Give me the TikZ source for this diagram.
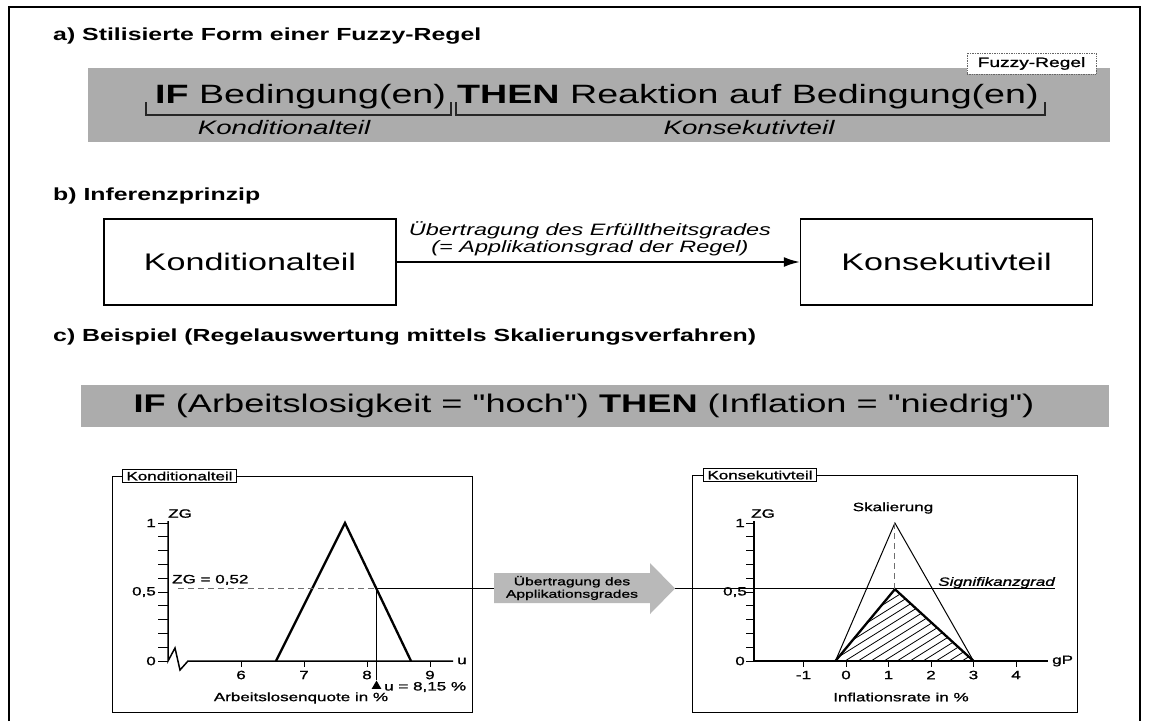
\documentclass[tikz,border=0pt]{standalone}
\usepackage{fontspec}
\setmainfont{Liberation Sans}[FakeStretch=1.42,Ligatures=TeXOff]
\newfontfamily\plotfont{Liberation Sans}[FakeStretch=1.42,FakeBold=1.2,Ligatures=TeXOff]
\usetikzlibrary{arrows.meta,shapes.geometric}
\newcommand{\fsz}[1]{\fontsize{#1}{#1}\selectfont}
\definecolor{bandgray}{RGB}{172,172,172}
\definecolor{arrowgray}{RGB}{185,185,185}
\definecolor{dashgray}{RGB}{110,110,110}

\begin{document}
\begin{tikzpicture}[x=1pt,y=-1pt,
  title/.style={anchor=west,inner sep=0pt,font=\fsz{17.5}\bfseries},
  bigtext/.style={anchor=base west,inner sep=0pt,font=\fsz{26.5}},
  parttext/.style={inner sep=0pt,font=\fsz{19.5}\itshape},
  bracket/.style={line width=1.1pt,draw=black!85},
  bigbox/.style={draw,line width=1.5pt,minimum width=292pt,minimum height=86pt,font=\fsz{24},inner sep=0pt},
  tag/.style={draw,line width=0.9pt,fill=white,inner xsep=4pt,inner ysep=0pt,minimum height=13pt,font=\plotfont\fsz{12}},
  plotframe/.style={draw,line width=1.4pt,inner sep=0pt},
  axisline/.style={line width=1.5pt},
  tickmark/.style={line width=1pt},
  lbl/.style={inner sep=0pt,font=\plotfont\fsz{12}},
  memb/.style={line width=2.3pt,line join=miter},
  thinmemb/.style={line width=1pt},
  guide/.style={dash pattern=on 6pt off 4pt,draw=dashgray,line width=0.9pt},
  marker/.style={regular polygon,regular polygon sides=3,fill,inner sep=0pt,minimum size=11pt}
]
\useasboundingbox (0,0) rectangle (1149,721);
\fill[white] (0,0) rectangle (1149,721);

% outer frame, open at the bottom
\draw[line width=2.6pt] (9,721) -- (9,7) -- (1140,7) -- (1140,721);

% ---------- a) ----------
\node[title] (ta) at (53,36) {a) Stilisierte Form einer Fuzzy-Regel};
\node[fill=bandgray,anchor=north west,minimum width=1022pt,minimum height=74pt,inner sep=0pt] (banda) at (88,68) {};
\node[draw=black!60,densely dotted,line width=0.7pt,fill=white,minimum width=129pt,minimum height=21pt,inner sep=0pt,font=\plotfont\fsz{13.5}] (fuzzy) at (1031.5,63.5) {Fuzzy-Regel};
\node[bigtext] (ifa) at (155,103) {\textbf{IF} Bedingung(en)};
\node[bigtext] (thena) at (457,103) {\textbf{THEN} Reaktion auf Bedingung(en)};
\draw[bracket] (146,102) |- (451,115) -- (451,102);
\draw[bracket] (456,102) |- (1045,115) -- (1045,102);
\node[parttext] (konda) at (284,128) {Konditionalteil};
\node[parttext] (konsa) at (749,128) {Konsekutivteil};

% ---------- b) ----------
\node[title] (tb) at (53,196) {b) Inferenzprinzip};
\node[bigbox] (bk) at (250,262) {Konditionalteil};
\node[bigbox] (bs) at (946.5,262) {Konsekutivteil};
\draw[line width=1.8pt,-{Latex[length=16pt,width=10pt]}] (bk.east) -- (bs.west);
\node[inner sep=0pt,font=\fontsize{16.5}{17.5}\selectfont\itshape,align=center] (inf) at (590,239) {Übertragung des Erfülltheitsgrades\\(= Applikationsgrad der Regel)};

% ---------- c) ----------
\node[title] (tc) at (53,337) {c) Beispiel (Regelauswertung mittels Skalierungsverfahren)};
\node[fill=bandgray,anchor=north west,minimum width=1028pt,minimum height=42pt,inner sep=0pt] (barc) at (81,385) {};
\node[inner sep=0pt,font=\fsz{25.5}] (rulec) at (584,406) {\textbf{IF} (Arbeitslosigkeit = "hoch") \textbf{THEN} (Inflation = "niedrig")};

% left diagram: condition part
\node[plotframe,anchor=north west,minimum width=360pt,minimum height=236pt] (fl) at (112,476) {};
\node[tag,anchor=west] (tagl) at (122,476) {Konditionalteil};
\draw[axisline] (168,521) -- (168,661) -- (175,648) -- (180,670) -- (188,661) -- (453,661);
\foreach \i in {0,...,10} \draw[tickmark] (158,{661-13.8*\i}) -- (168,{661-13.8*\i});
\node[lbl,anchor=east] (l1) at (156,523) {1};
\node[lbl,anchor=east] (l05) at (156,592) {0,5};
\node[lbl,anchor=east] (l0) at (156,661) {0};
\node[lbl,anchor=south west] (lzg) at (168,518) {ZG};
\foreach \u in {6,7,8,9} {
  \draw[tickmark] ({241+63*(\u-6)},661) -- ({241+63*(\u-6)},667);
  \node[lbl] (lx\u) at ({241+63*(\u-6)},675) {\u};
}
\node[lbl,anchor=west] (lu) at (457,661) {u};
\draw[memb] (276,661) -- (345,523) -- (411,661);
\coordinate (cut) at (376.5,588.5);
\coordinate (sigend) at (1055,588.5);
\draw[guide] (178,588.5) -- (cut);
\node[lbl,anchor=south west] (zg52) at (172,585) {ZG = 0,52};
\node[marker] (mk) at (376.5,686) {};
\draw[line width=1.3pt] (cut) -- (mk.north);
\node[lbl,anchor=west] (uval) at (384,687) {u = 8,15 \%};
\node[lbl] (lxlab) at (301,698) {Arbeitslosenquote in \%};

% transfer of the degree of application
\draw[line width=1.3pt] (cut) -- (sigend);
\fill[arrowgray] (494,573) -- (650,573) -- (650,563) -- (675,588.5) -- (650,614) -- (650,603) -- (494,603) -- cycle;
\node[inner sep=0pt,font=\plotfont\fontsize{11}{12.5}\selectfont,align=center] (arrtxt) at (572,588) {Übertragung des\\Applikationsgrades};

% right diagram: consequence part
\node[plotframe,anchor=north west,minimum width=385pt,minimum height=237pt] (fr) at (692,475) {};
\node[tag,anchor=west] (tagr) at (703,475) {Konsekutivteil};
\draw[axisline] (754,521) -- (754,661) -- (1048,661);
\foreach \i in {0,...,10} \draw[tickmark] (746,{661-13.8*\i}) -- (754,{661-13.8*\i});
\node[lbl,anchor=east] (r1) at (745,523) {1};
\node[lbl,anchor=east] (r05) at (747,592) {0,5};
\node[lbl,anchor=east] (r0) at (745,661) {0};
\node[lbl,anchor=south west] (rzg) at (751,518) {ZG};
\foreach \v in {-1,0,1,2,3,4} {
  \draw[tickmark] ({846+42.5*\v},661) -- ({846+42.5*\v},667);
  \node[lbl] (rx\v) at ({846+42.5*\v},675) {\v};
}
\node[lbl,anchor=west] (gp) at (1052,661) {gP};
\coordinate (a0) at (835.4,661);
\coordinate (apk) at (894.9,523);
\coordinate (spk) at (894.9,589.2);
\coordinate (a1) at (973.5,661);
\begin{scope}
  \clip (a0) -- (spk) -- (a1) -- cycle;
  \foreach \k in {0,...,21} \draw[line width=0.8pt] ({715+13*\k},661) -- ++(160,-100);
\end{scope}
\draw[thinmemb] (a0) -- (apk) -- (a1);
\draw[memb] (a0) -- (spk) -- (a1);
\draw[guide] (apk) -- (spk);
\node[lbl] (skal) at (893,508) {Skalierung};
\node[lbl,anchor=south east,font=\plotfont\fsz{12}\itshape] (sig) at (sigend) {Signifikanzgrad};
\node[lbl] (rxlab) at (901,697) {Inflationsrate in \%};
\end{tikzpicture}
\end{document}
